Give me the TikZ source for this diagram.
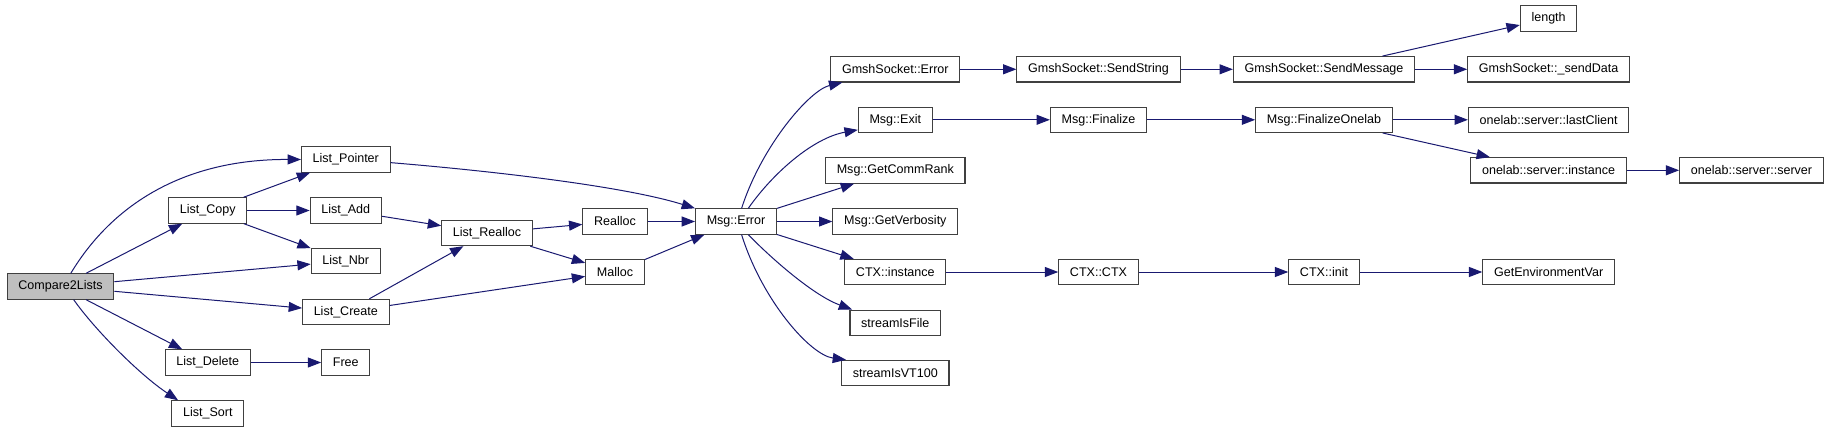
\documentclass[tikz,border=0pt]{standalone}
\usepackage{fontspec}
\setmainfont{Liberation Sans}
\usepackage{xcolor}
\usepackage{tikz}
\usetikzlibrary{arrows.meta,calc}

\definecolor{edgeblue}{HTML}{191970}
\definecolor{boxgray}{HTML}{404040}
\definecolor{rootgray}{HTML}{BFBFBF}

\begin{document}
\begin{tikzpicture}[x=0.75pt,y=-0.75pt,
	fn/.style={draw=boxgray, line width=0.8pt, fill=white, minimum height=19pt,
		inner xsep=8.4pt, inner ysep=0pt, font=\fontsize{9.4}{11}\selectfont},
	root/.style={fn, fill=rootgray},
	call/.style={draw=edgeblue, line width=0.75pt, -{Triangle[length=10pt,width=7.5pt]}}]
		\useasboundingbox (0,0) rectangle (1829,432);

		\node[root] (cmp) at (60.5,286.5) {Compare2Lists};
		\node[fn] (lptr) at (345.8,159.5) {List\_Pointer};
		\node[fn] (lcopy) at (207.8,210.5) {List\_Copy};
		\node[fn] (ladd) at (345.8,210.5) {List\_Add};
		\node[fn] (lnbr) at (345.8,261) {List\_Nbr};
		\node[fn] (lrealloc) at (487,233) {List\_Realloc};
		\node[fn] (lcreate) at (345.8,312) {List\_Create};
		\node[fn] (ldelete) at (207.8,362.5) {List\_Delete};
		\node[fn] (free) at (345.8,362.5) {Free};
		\node[fn] (lsort) at (207.8,413.5) {List\_Sort};
		\node[fn] (realloc) at (615,221.5) {Realloc};
		\node[fn] (malloc) at (615,272) {Malloc};
		\node[fn] (msgerr) at (736,221.5) {Msg::Error};

		\node[fn] (gserr) at (895.3,69.3) {GmshSocket::Error};
		\node[fn] (msgexit) at (895.3,119.8) {Msg::Exit};
		\node[fn] (commrank) at (895.3,170.5) {Msg::GetCommRank};
		\node[fn] (verbosity) at (895.3,221.5) {Msg::GetVerbosity};
		\node[fn] (ctxinst) at (895.3,272) {CTX::instance};
		\node[fn] (sfile) at (895.3,322.7) {streamIsFile};
		\node[fn] (svt) at (895.3,373) {streamIsVT100};

		\node[fn] (sendstr) at (1098.5,69.3) {GmshSocket::SendString};
		\node[fn] (finalize) at (1098.5,119.8) {Msg::Finalize};
		\node[fn] (ctxctx) at (1098.5,272) {CTX::CTX};
		\node[fn] (sendmsg) at (1324,69.3) {GmshSocket::SendMessage};
		\node[fn] (finonelab) at (1324,119.8) {Msg::FinalizeOnelab};
		\node[fn] (ctxinit) at (1324,272) {CTX::init};

		\node[fn] (len) at (1548.6,18.5) {length};
		\node[fn] (senddata) at (1548.6,69.3) {GmshSocket::\_sendData};
		\node[fn] (lastclient) at (1548.6,119.8) {onelab::server::lastClient};
		\node[fn] (olinst) at (1548.6,170.3) {onelab::server::instance};
		\node[fn] (olserver) at (1751.5,170.3) {onelab::server::server};
		\node[fn] (getenv) at (1548.6,272) {GetEnvironmentVar};

		\foreach \a/\b in {cmp/lcopy, cmp/lnbr, cmp/lcreate, cmp/ldelete,
			lcopy/lptr, lcopy/ladd, lcopy/lnbr, ladd/lrealloc, lcreate/lrealloc,
			lcreate/malloc, lrealloc/realloc, lrealloc/malloc, ldelete/free,
			realloc/msgerr, malloc/msgerr, msgerr/commrank, msgerr/verbosity,
			msgerr/ctxinst, gserr/sendstr, sendstr/sendmsg, sendmsg/len,
			sendmsg/senddata, msgexit/finalize, finalize/finonelab,
			finonelab/lastclient, finonelab/olinst, olinst/olserver,
			ctxinst/ctxctx, ctxctx/ctxinit, ctxinit/getenv} {
		\draw[call] (\a) -- (\b);
		}

		\draw[call] (cmp.52) .. controls (110,208) and (180,159) .. (lptr.west);
		\draw[call] (cmp.-45) .. controls (95,330) and (140,375) .. (lsort.156);
		\draw[call] (lptr.-4) .. controls (480,170) and (620,185) .. (msgerr.north west);

		\draw[call] (msgerr.67) .. controls (762,145) and (810,90) .. (gserr.194);
		\draw[call] (msgerr.47) .. controls (773,173) and (813,138) .. (msgexit.195);
		\draw[call] (msgerr.-47) .. controls (775,262) and (815,296) .. (sfile.163);
		\draw[call] (msgerr.-67) .. controls (762,300) and (810,355) .. (svt.165);
	\end{tikzpicture}
\end{document}
